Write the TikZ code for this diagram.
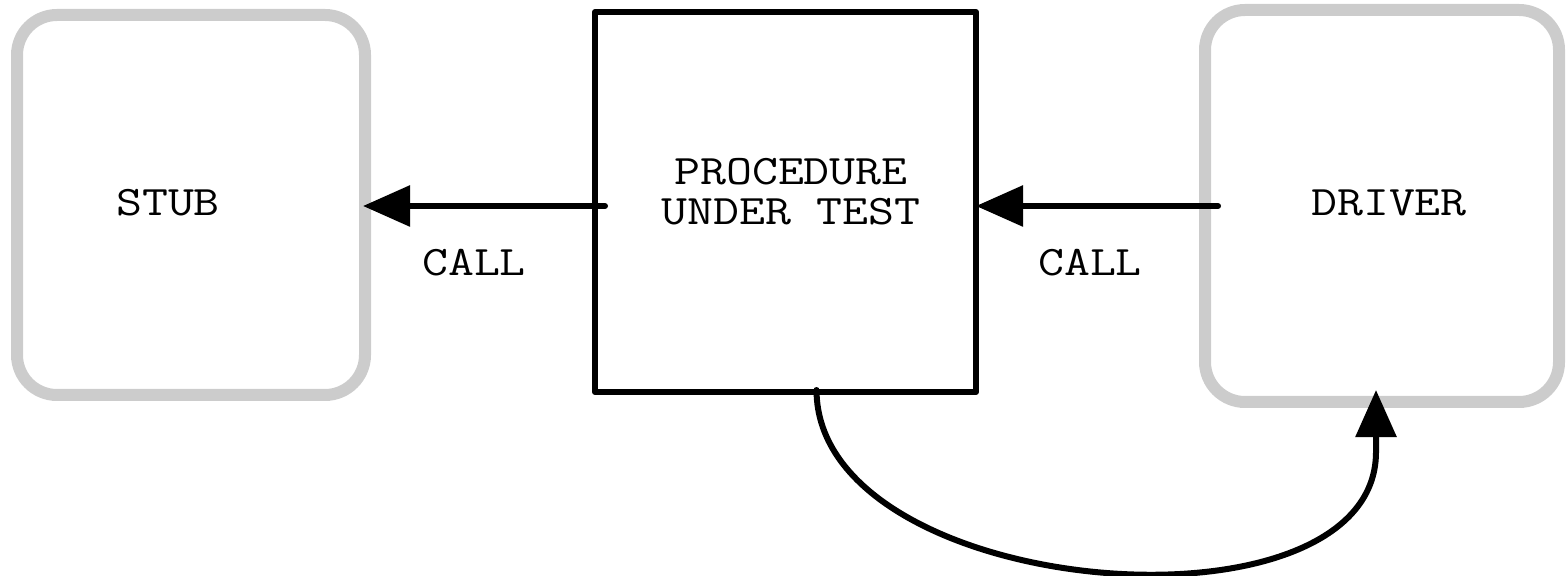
\documentclass[tikz,border=0pt]{standalone}
\usepackage{fontspec}
\setmonofont{Latin Modern Mono}[FakeStretch=1.2]
\usetikzlibrary{arrows.meta,calc}
\definecolor{boxgrey}{HTML}{CCCCCC}

\begin{document}
\begin{tikzpicture}[x=0.5pt,y=-0.5pt,
  softbox/.style={draw=boxgrey,line width=6pt,rounded corners=20pt,inner sep=0pt,outer sep=0pt},
  hardbox/.style={draw=black,line width=3pt,line join=round,inner sep=0pt,outer sep=0pt,
    minimum width=190.5pt,minimum height=190pt},
  word/.style={font=\ttfamily\fontsize{21}{20}\selectfont,inner sep=0pt,align=center},
  callline/.style={line width=3pt,line cap=round,-{Triangle[length=23.5pt,width=20pt]}}]
\useasboundingbox (0,0) rectangle (1566,576);
% boxes
\node[softbox,minimum width=174pt,minimum height=190pt] (stub) at (191,205) {};
\node[hardbox] (put) at (785.5,202) {};
\node[softbox,minimum width=177pt,minimum height=196pt] (driver) at (1382,206) {};
% texts
\node[word] (stubtext) at (168,203) {STUB};
\node[word] (puttext) at (791,192) {PROCEDURE\\UNDER TEST};
\node[word] (drivertext) at (1389,203) {DRIVER};
\node[word] (calla) at (474,263) {CALL};
\node[word] (callb) at (1090,263) {CALL};
% calls
\draw[callline] ($(put.west)+(10,4)$) -- ($(stub.east)+(-2,1)$);
\draw[callline] ($(driver.west)+(13,0)$) -- (put.east |- driver.west);
% return
\coordinate (back) at ($(put.south)+(31,-2)$);
\coordinate (bend) at (1376,452);
\draw[callline] (back) .. controls (817,600) and (1376,645) .. (bend) -- (1376,390);
\end{tikzpicture}
\end{document}
